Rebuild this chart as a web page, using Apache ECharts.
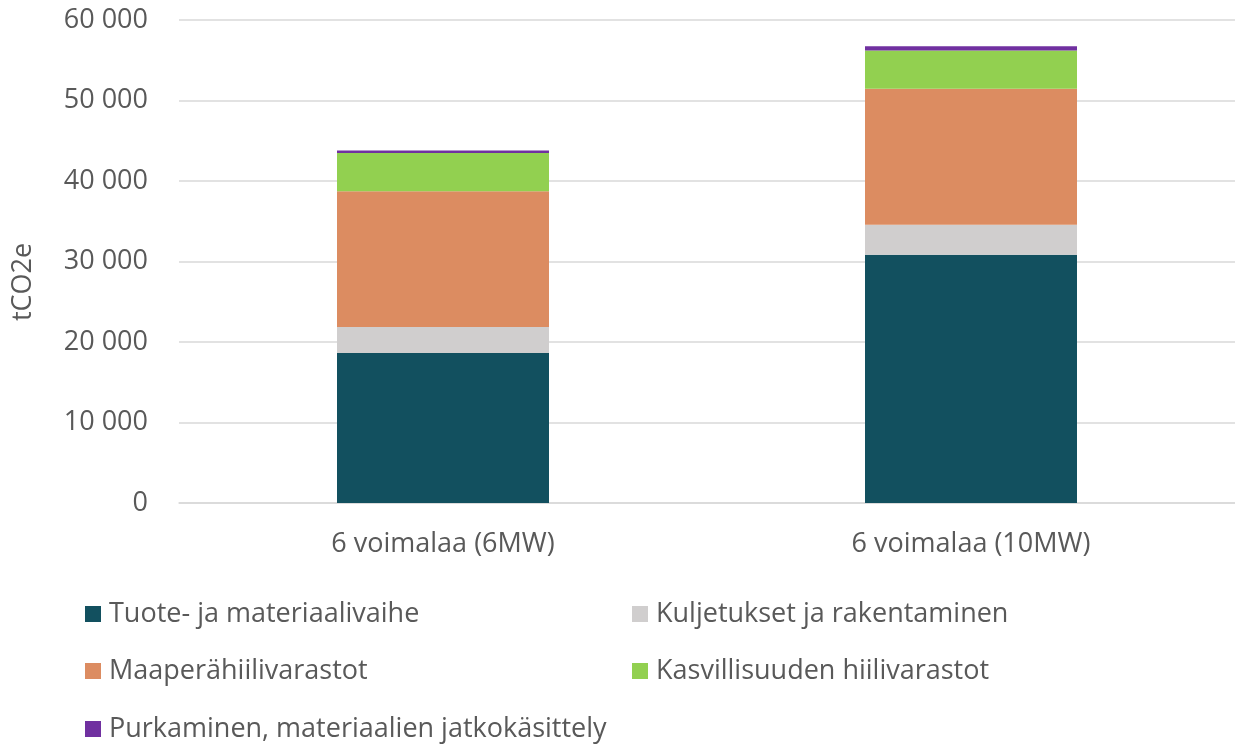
<!DOCTYPE html>
<html>
<head>
<meta charset="utf-8">
<title>tCO2e</title>
<script src="https://cdn.jsdelivr.net/npm/echarts@6/dist/echarts.min.js"></script>
<style>
  html, body { margin: 0; padding: 0; background: #ffffff; }
  #chart { width: 1235px; height: 747px; }
</style>
</head>
<body>
<div id="chart"></div>
<script>
// Categories (x axis)
const categories = ['6 voimalaa (6MW)', '6 voimalaa (10MW)'];

// Stacked emission components, tCO2e
const tuoteJaMateriaalivaihe = [18620, 30850];
const kuljetuksetJaRakentaminen = [3230, 3730];
const maaperahiilivarastot = [16870, 16870];
const kasvillisuudenHiilivarastot = [4770, 4770];
const purkaminen = [300, 530];

// Y axis ticks
const yTicks = [0, 10000, 20000, 30000, 40000, 50000, 60000];

const seriesNames = [
  'Tuote- ja materiaalivaihe',
  'Kuljetukset ja rakentaminen',
  'Maaperähiilivarastot',
  'Kasvillisuuden hiilivarastot',
  'Purkaminen, materiaalien jatkokäsittely'
];
const seriesValues = [
  tuoteJaMateriaalivaihe,
  kuljetuksetJaRakentaminen,
  maaperahiilivarastot,
  kasvillisuudenHiilivarastot,
  purkaminen
];
const colors = ['#12505f', '#d0cece', '#dc8c61', '#92d050', '#7030a0'];

const FONT = '"Open Sans", Lato, sans-serif';
const TEXT = '#595959';
const FS = 27;

function fmt(v) {
  return String(v).replace(/\B(?=(\d{3})+(?!\d))/g, ' ');
}

// Legend placed as a two-column grid, one component per item
const legendPos = [
  { left: 85, top: 599 },
  { left: 632, top: 599 },
  { left: 85, top: 656 },
  { left: 632, top: 656 },
  { left: 85, top: 714 }
];
const legends = seriesNames.map((name, i) => ({
  data: [name],
  left: legendPos[i].left,
  top: legendPos[i].top,
  orient: 'horizontal',
  padding: 0,
  icon: 'rect',
  itemWidth: 16,
  itemHeight: 16,
  selectedMode: false,
  textStyle: {
    fontFamily: FONT,
    fontSize: FS,
    color: TEXT,
    lineHeight: 30,
    padding: [0, 0, 0, 3]
  }
}));

const chart = echarts.init(document.getElementById('chart'), null, { renderer: 'canvas' });

chart.setOption({
  backgroundColor: '#ffffff',
  animation: false,
  color: colors,
  grid: { left: 179, right: 0, top: 20, bottom: 244, containLabel: false },
  legend: legends,
  xAxis: {
    type: 'category',
    data: categories,
    axisTick: { show: false },
    axisLine: { lineStyle: { color: '#d9d9d9', width: 1.5 } },
    axisLabel: {
      margin: 28,
      fontFamily: FONT,
      fontSize: FS,
      color: TEXT
    }
  },
  yAxis: {
    type: 'value',
    min: yTicks[0],
    max: yTicks[yTicks.length - 1],
    interval: yTicks[1] - yTicks[0],
    axisLine: { show: false },
    axisTick: { show: false },
    splitLine: { lineStyle: { color: '#d9d9d9', width: 1.5 } },
    axisLabel: {
      margin: 31,
      fontFamily: FONT,
      fontSize: FS,
      color: TEXT,
      formatter: fmt
    }
  },
  graphic: [{
    type: 'text',
    x: 23,
    y: 282,
    rotation: Math.PI / 2,
    style: {
      text: 'tCO2e',
      fontFamily: FONT,
      fontSize: FS,
      fill: TEXT,
      align: 'center',
      verticalAlign: 'middle'
    }
  }],
  series: seriesNames.map((name, i) => ({
    name: name,
    type: 'bar',
    stack: 'total',
    barWidth: 212,
    data: seriesValues[i],
    itemStyle: { color: colors[i] },
    emphasis: { disabled: true }
  }))
});
</script>
</body>
</html>
